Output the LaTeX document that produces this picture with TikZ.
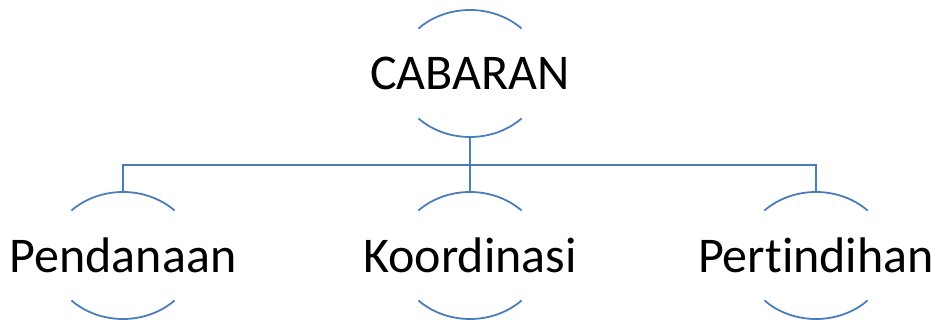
\documentclass[tikz,border=0pt]{standalone}
\usepackage{fontspec}
\setmainfont[Ligatures={NoCommon}]{Carlito}
\usetikzlibrary{shapes.geometric}
\definecolor{linblue}{HTML}{4A7EBB}
\tikzset{
  ring/.style={ellipse, draw=none, inner sep=0pt, minimum width=146pt, minimum height=127pt},
  lbl/.style={font=\fontsize{50}{60}\selectfont, text=black, inner sep=0pt},
  arcline/.style={draw=linblue, line width=1.8pt},
  conn/.style={draw=linblue, line width=1.8pt},
  toparc/.style={insert path={++(135:73pt and 63.5pt) arc[start angle=135, end angle=45, x radius=73pt, y radius=63.5pt]}},
  botarc/.style={insert path={++(225:73pt and 63.5pt) arc[start angle=225, end angle=315, x radius=73pt, y radius=63.5pt]}}
}
\begin{document}
\begin{tikzpicture}[x=1pt,y=1pt]
\useasboundingbox (0,0) rectangle (940,320);
\node[ring] (c) at (470,246.5) {};
\node[ring] (p) at (123,64.5) {};
\node[ring] (k) at (470,64.5) {};
\node[ring] (t) at (816,64.5) {};
\foreach \n in {c,p,k,t}{
  \draw[arcline] (\n.center) [toparc];
  \draw[arcline] (\n.center) [botarc];
}
\node[lbl] (tc) at (c.center) {CABARAN};
\node[lbl] (tp) at (p.center) {Pendanaan};
\node[lbl] (tk) at (k.center) {Koordinasi};
\node[lbl] (tt) at (t.center) {Pertindihan};
\draw[conn] (c.south) -- (k.north);
\draw[conn] (p.north) -- ++(0,27) -| (t.north);
\end{tikzpicture}
\end{document}
